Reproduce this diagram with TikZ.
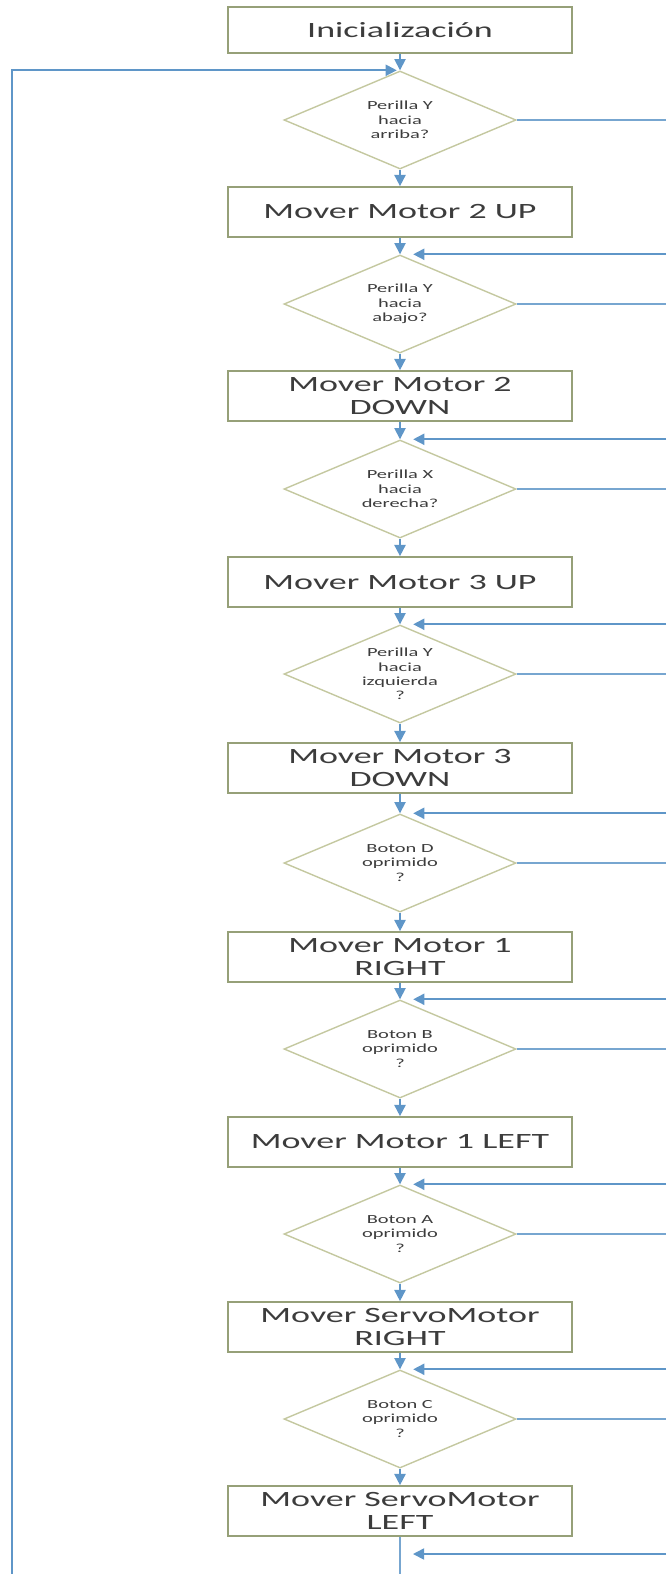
\documentclass[tikz,border=0pt]{standalone}
\usepackage{fontspec}
\setmainfont{Carlito}[FakeStretch=1.65]
\usetikzlibrary{shapes.geometric,arrows.meta}

\definecolor{boxline}{RGB}{150,160,120}
\definecolor{dialine}{RGB}{196,200,160}
\definecolor{flow}{RGB}{95,150,200}
\definecolor{ink}{RGB}{60,60,60}

\tikzset{
  proc/.style={draw=boxline, line width=1.2pt, minimum width=8.6cm, minimum height=1.25cm,
    inner sep=0pt, align=center, text=ink, font=\fontsize{15.5}{16}\selectfont},
  ask/.style={diamond, shape aspect=2.37, draw=dialine, line width=1pt, minimum width=5.8cm,
    minimum height=2.45cm, inner sep=0pt, align=center, text=ink, font=\fontsize{8.8}{10.2}\selectfont},
  flowarr/.style={draw=flow, line width=1.2pt, -{Triangle[length=0.28cm,width=0.28cm]}},
  flowln/.style={draw=flow!85, line width=1pt},
}

\begin{document}
\begin{tikzpicture}[x=0.025cm,y=-0.025cm]
\useasboundingbox (0,0) rectangle (666,1574);
\coordinate (rim) at (666,0);
\coordinate (floor) at (0,1574);
\coordinate (lb) at (12,1574);

\node[proc, minimum height=1.15cm] (init) at (400,30) {Inicialización};

\node[ask] (d1) at (400,120) {Perilla Y\\hacia\\arriba?};
\node[proc] (b1) at (400,212) {Mover Motor 2 UP};
\node[ask] (d2) at (400,304) {Perilla Y\\hacia\\abajo?};
\node[proc] (b2) at (400,396) {Mover Motor 2\\DOWN};
\node[ask] (d3) at (400,489) {Perilla X\\hacia\\derecha?};
\node[proc] (b3) at (400,582) {Mover Motor 3 UP};
\node[ask] (d4) at (400,674) {Perilla Y\\hacia\\izquierda\\?};
\node[proc] (b4) at (400,768) {Mover Motor 3\\DOWN};
\node[ask] (d5) at (400,863) {Boton D\\oprimido\\?};
\node[proc] (b5) at (400,957) {Mover Motor 1\\RIGHT};
\node[ask] (d6) at (400,1049) {Boton B\\oprimido\\?};
\node[proc] (b6) at (400,1142) {Mover Motor 1 LEFT};
\node[ask] (d7) at (400,1234) {Boton A\\oprimido\\?};
\node[proc] (b7) at (400,1327) {Mover ServoMotor\\RIGHT};
\node[ask] (d8) at (400,1419) {Boton C\\oprimido\\?};
\node[proc] (b8) at (400,1511) {Mover ServoMotor\\LEFT};
\coordinate (j9) at (413,1554);

% main column
\draw[flowarr] (init) -- (d1);
\draw[flowarr] (d1) -- (b1);
\draw[flowarr] (b1) -- (d2);
\draw[flowarr] (d2) -- (b2);
\draw[flowarr] (b2) -- (d3);
\draw[flowarr] (d3) -- (b3);
\draw[flowarr] (b3) -- (d4);
\draw[flowarr] (d4) -- (b4);
\draw[flowarr] (b4) -- (d5);
\draw[flowarr] (d5) -- (b5);
\draw[flowarr] (b5) -- (d6);
\draw[flowarr] (d6) -- (b6);
\draw[flowarr] (b6) -- (d7);
\draw[flowarr] (d7) -- (b7);
\draw[flowarr] (b7) -- (d8);
\draw[flowarr] (d8) -- (b8);
\draw[flowln, line width=1.2pt] (b8) -- (b8.south |- floor);

% "no" branches out to the right
\draw[flowln] (d1.east) -- (d1.east -| rim);
\draw[flowln] (d2.east) -- (d2.east -| rim);
\draw[flowln] (d3.east) -- (d3.east -| rim);
\draw[flowln] (d4.east) -- (d4.east -| rim);
\draw[flowln] (d5.east) -- (d5.east -| rim);
\draw[flowln] (d6.east) -- (d6.east -| rim);
\draw[flowln] (d7.east) -- (d7.east -| rim);
\draw[flowln] (d8.east) -- (d8.east -| rim);

% returns from the right
\draw[flowarr] (d2.north -| rim) -- ([xshift=0.33cm]d2.north);
\draw[flowarr] (d3.north -| rim) -- ([xshift=0.33cm]d3.north);
\draw[flowarr] (d4.north -| rim) -- ([xshift=0.33cm]d4.north);
\draw[flowarr] (d5.north -| rim) -- ([xshift=0.33cm]d5.north);
\draw[flowarr] (d6.north -| rim) -- ([xshift=0.33cm]d6.north);
\draw[flowarr] (d7.north -| rim) -- ([xshift=0.33cm]d7.north);
\draw[flowarr] (d8.north -| rim) -- ([xshift=0.33cm]d8.north);
\draw[flowarr] (j9 -| rim) -- (j9);

% loop back
\draw[flowarr] (lb) |- ([xshift=-0.08cm]d1.north);
\end{tikzpicture}
\end{document}
